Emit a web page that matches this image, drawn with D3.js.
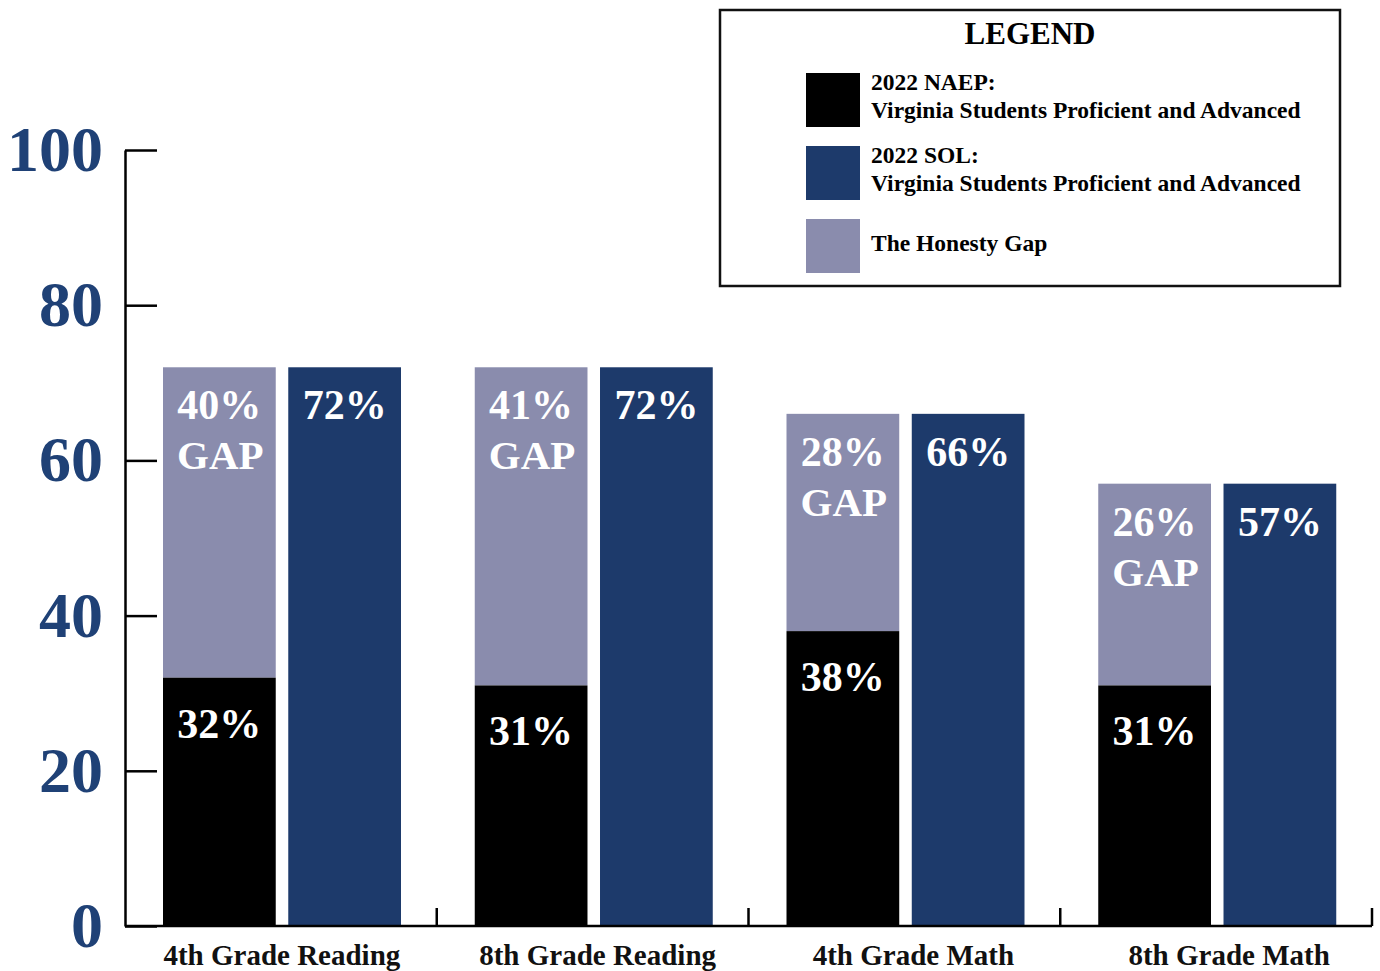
<!DOCTYPE html>
<html>
<head>
<meta charset="utf-8">
<script src="https://cdn.jsdelivr.net/npm/d3@7"></script>
<style>
  body { margin: 0; background: #fff; }
  svg { display: block; }
  text { font-family: "Liberation Serif", "Times New Roman", serif; font-weight: bold; }
</style>
</head>
<body>
<svg id="chart_svg" width="1380" height="971"></svg>
<script>
// data
var categories = ["4th Grade Reading", "8th Grade Reading", "4th Grade Math", "8th Grade Math"];
var naep = [32, 31, 38, 31];
var sol = [72, 72, 66, 57];
var gap = [40, 41, 28, 26];
var y_ticks = [0, 20, 40, 60, 80, 100];
var legend_items = [
    { key: "naep", lines: ["2022 NAEP:", "Virginia Students Proficient and Advanced"] },
    { key: "sol", lines: ["2022 SOL:", "Virginia Students Proficient and Advanced"] },
    { key: "gap", lines: ["The Honesty Gap"] }
];

var g_color = { naep: "#000000", sol: "#1d3a6b", gap: "#8a8cad", tick: "#1f4176" };

var svg = d3.select("#chart_svg");

// scales
var x0 = d3.scaleBand().domain(categories).range([125, 1372]).padding(0);
var x1 = d3.scaleBand().domain(["naep", "sol"]).range([38, 276]).paddingInner(0.1);
var y = d3.scaleLinear().domain([0, 100]).range([926, 150]);

var rows = categories.map(function (c, i) {
    return { cat: c, naep: naep[i], sol: sol[i], gap: gap[i] };
});

// bars
var grp = svg.selectAll(".grp").data(rows).join("g").classed("grp", true)
    .attr("transform", d => "translate(" + x0(d.cat) + ",0)");

// gap bar spans naep top to sol top, naep bar below it
grp.append("rect")
    .attr("x", x1("naep")).attr("width", x1.bandwidth())
    .attr("y", d => y(d.sol)).attr("height", d => y(d.naep) - y(d.sol))
    .attr("fill", g_color.gap);
grp.append("rect")
    .attr("x", x1("naep")).attr("width", x1.bandwidth())
    .attr("y", d => y(d.naep)).attr("height", d => y(0) - y(d.naep))
    .attr("fill", g_color.naep);
grp.append("rect")
    .attr("x", x1("sol")).attr("width", x1.bandwidth())
    .attr("y", d => y(d.sol)).attr("height", d => y(0) - y(d.sol))
    .attr("fill", g_color.sol);

// bar labels
var cx_naep = x1("naep") + x1.bandwidth() / 2, cx_sol = x1("sol") + x1.bandwidth() / 2;
grp.append("text").attr("x", cx_naep).attr("y", d => y(d.sol) + 52)
    .attr("text-anchor", "middle").attr("fill", "#fff").attr("font-size", 42)
    .text(d => d.gap + "%");
grp.append("text").attr("x", cx_naep + 1).attr("y", d => y(d.sol) + 102)
    .attr("text-anchor", "middle").attr("fill", "#fff").attr("font-size", 41)
    .text("GAP");
grp.append("text").attr("x", cx_sol).attr("y", d => y(d.sol) + 52)
    .attr("text-anchor", "middle").attr("fill", "#fff").attr("font-size", 42)
    .text(d => d.sol + "%");
grp.append("text").attr("x", cx_naep).attr("y", d => y(d.naep) + 60)
    .attr("text-anchor", "middle").attr("fill", "#fff").attr("font-size", 42)
    .text(d => d.naep + "%");

// y axis: ticks point inward, labels on the left
var y_axis = svg.append("g").attr("transform", "translate(125,0)")
    .call(d3.axisLeft(y).tickValues(y_ticks).tickSizeInner(-32).tickSizeOuter(0).tickPadding(22));
y_axis.select(".domain").attr("stroke", "#000").attr("stroke-width", 2.5);
y_axis.selectAll(".tick line").attr("stroke", "#000").attr("stroke-width", 2.5);
y_axis.selectAll(".tick text")
    .attr("fill", g_color.tick).attr("font-size", 64)
    .attr("font-family", "Liberation Serif, serif").attr("font-weight", "bold");

// x axis: baseline plus upward ticks at category boundaries
svg.append("line").attr("x1", 125).attr("x2", x0.range()[1])
    .attr("y1", y(0)).attr("y2", y(0)).attr("stroke", "#000").attr("stroke-width", 2.5);
svg.selectAll(".xtick").data(categories).join("line").classed("xtick", true)
    .attr("x1", d => x0(d) + x0.bandwidth()).attr("x2", d => x0(d) + x0.bandwidth())
    .attr("y1", y(0)).attr("y2", y(0) - 18)
    .attr("stroke", "#000").attr("stroke-width", 2.5);
svg.selectAll(".xlab").data(categories).join("text").classed("xlab", true)
    .attr("x", (d, i) => x0(d) + x0.bandwidth() / 2 + 1 + i * 4).attr("y", 965)
    .attr("text-anchor", "middle").attr("font-size", 29).attr("fill", "#111")
    .text(d => d);

// legend
var lg = svg.append("g").attr("transform", "translate(720,10)");
lg.append("rect").attr("width", 620).attr("height", 276)
    .attr("fill", "#fff").attr("stroke", "#111").attr("stroke-width", 2.5);
lg.append("text").attr("x", 310).attr("y", 34).attr("text-anchor", "middle")
    .attr("font-size", 31).attr("fill", "#000").text("LEGEND");
var li = lg.selectAll(".li").data(legend_items).join("g").classed("li", true)
    .attr("transform", (d, i) => "translate(86," + (63 + i * 73) + ")");
li.append("rect").attr("width", 54).attr("height", 54).attr("fill", d => g_color[d.key]);
li.selectAll("text").data(d => d.lines.map(t => ({ t: t, n: d.lines.length })))
    .join("text")
    .attr("x", 65).attr("y", (d, j) => d.n === 1 ? 32 : 17 + j * 28)
    .attr("font-size", 23.5).attr("fill", "#000")
    .text(d => d.t);
</script>
</body>
</html>
